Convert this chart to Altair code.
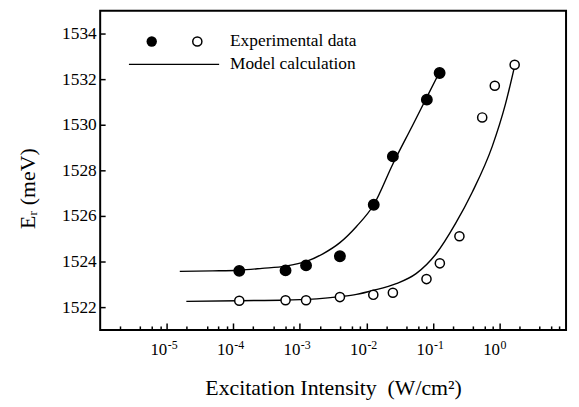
import altair as alt
import pandas as pd

# ---- data ----
filled_I = [1.23e-4, 6.1e-4, 1.24e-3, 4.0e-3, 1.29e-2, 2.5e-2, 8.1e-2, 0.126]
filled_E = [1523.59, 1523.61, 1523.83, 1524.23, 1526.49, 1528.61, 1531.10, 1532.27]

open_I = [1.23e-4, 6.1e-4, 1.24e-3, 4.0e-3, 1.27e-2, 2.5e-2, 8.0e-2, 0.127, 0.25, 0.55, 0.85, 1.69]
open_E = [1522.28, 1522.30, 1522.30, 1522.44, 1522.54, 1522.63, 1523.23, 1523.92, 1525.11,
          1530.32, 1531.71, 1532.63]

model_filled_I = [1.57e-5, 4.9e-5, 1.23e-4, 2.7e-4, 6.1e-4, 1.28e-3, 2.22e-3, 4.0e-3, 7.1e-3,
                  1.29e-2, 2.5e-2, 4.98e-2, 8.1e-2, 0.117]
model_filled_E = [1523.57, 1523.59, 1523.62, 1523.70, 1523.80, 1524.02, 1524.34, 1524.83, 1525.54,
                  1526.49, 1528.28, 1529.99, 1531.21, 1532.13]

model_open_I = [1.97e-5, 1.16e-4, 6.44e-4, 1.80e-3, 4.0e-3, 7.1e-3, 1.26e-2, 2.81e-2, 5.58e-2,
                0.111, 0.220, 0.391, 0.776, 1.225, 1.69]
model_open_E = [1522.25, 1522.28, 1522.31, 1522.36, 1522.46, 1522.56, 1522.73, 1523.03, 1523.47,
                1524.33, 1525.68, 1527.05, 1529.04, 1530.89, 1532.58]

x_major = [1e-5, 1e-4, 1e-3, 1e-2, 1e-1, 1.0]
x_major_exp = ["-5", "-4", "-3", "-2", "-1", "0"]
x_minor = [m * 10.0 ** k for k in range(-6, 1) for m in (2, 4, 6, 8)]
y_ticks = [1522, 1524, 1526, 1528, 1530, 1532, 1534]

legend_exp = "Experimental data"
legend_model = "Model calculation"
x_title = "Excitation Intensity\u00a0 (W/cm²)"
y_title = "Eᵣ (meV)"

# ---- tables ----
pts = pd.DataFrame({
    "I": filled_I + open_I,
    "E": filled_E + open_E,
    "s": ["filled"] * len(filled_I) + ["open"] * len(open_I),
})
model = pd.DataFrame({
    "I": model_filled_I + model_open_I,
    "E": model_filled_E + model_open_E,
    "s": ["filled"] * len(model_filled_I) + ["open"] * len(model_open_I),
})
exps = pd.DataFrame({"I": x_major, "t": x_major_exp})
one = pd.DataFrame({"a": [0]})

FONT = "Liberation Serif"
W, H = 470, 322

xscale = alt.Scale(type="log", domain=[1e-6, 10], nice=False)
yscale = alt.Scale(domain=[1521, 1535], nice=False, zero=False)

x_axis_major = alt.Axis(orient="bottom", values=x_major, labelExpr="'10'", labelAlign="right",
                        offset=-7, tickSize=7, tickWidth=1.5, labelPadding=12, labelFontSize=17,
                        title=x_title, titleFontSize=22, titlePadding=20,
                        grid=False, domain=False)
x_axis_minor = alt.Axis(orient="bottom", values=x_minor, offset=-4, tickSize=4, tickWidth=1.5,
                        labels=False, title="", grid=False, domain=False)
y_axis = alt.Axis(orient="left", values=y_ticks, format="d", offset=-5, tickSize=5, tickWidth=1.5,
                  labelPadding=4, labelFontSize=17.5, title=y_title, titleFontSize=22,
                  titleAngle=270, titleX=-78, titleY=179, titleAlign="center",
                  titleBaseline="middle", grid=False, domain=False)

lines = alt.Chart(model).mark_line(color="black", strokeWidth=1.4, interpolate="monotone").encode(
    x=alt.X("I:Q", scale=xscale, axis=x_axis_major),
    y=alt.Y("E:Q", scale=yscale, axis=y_axis),
    detail="s:N",
)

points = alt.Chart(pts).mark_circle(stroke="black", strokeWidth=1.5, opacity=1).encode(
    x=alt.X("I:Q", scale=xscale, axis=x_axis_minor),
    y=alt.Y("E:Q", scale=yscale, axis=y_axis),
    fill=alt.Fill("s:N", scale=alt.Scale(domain=["filled", "open"], range=["black", "white"]), legend=None),
    size=alt.Size("s:N", scale=alt.Scale(domain=["filled", "open"], range=[110, 85]), legend=None),
)

exp_text = alt.Chart(exps).mark_text(align="left", baseline="middle", font=FONT, fontSize=12,
                                     color="black", dx=1).encode(
    x=alt.X("I:Q", scale=xscale, axis=None),
    y=alt.value(H + 15),
    text="t:N",
)

leg_filled = alt.Chart(one).mark_circle(color="black", size=110, opacity=1).encode(
    x=alt.value(52), y=alt.value(31))
leg_open = alt.Chart(one).mark_circle(fill="white", stroke="black", strokeWidth=1.5, size=85, opacity=1).encode(
    x=alt.value(98), y=alt.value(31))
leg_line = alt.Chart(one).mark_rule(color="black", strokeWidth=1.3).encode(
    x=alt.value(29), x2=alt.value(120), y=alt.value(54))
leg_t1 = alt.Chart(one).mark_text(align="left", baseline="middle", font=FONT, fontSize=17.5,
                                  color="black", text=legend_exp).encode(x=alt.value(131), y=alt.value(31))
leg_t2 = alt.Chart(one).mark_text(align="left", baseline="middle", font=FONT, fontSize=17.5,
                                  color="black", text=legend_model).encode(x=alt.value(131), y=alt.value(54))

chart = alt.layer(lines, points, exp_text, leg_filled, leg_open, leg_line, leg_t1, leg_t2).resolve_axis(
    x="independent"
).properties(
    width=W, height=H, autosize="none",
    padding={"left": 93, "top": 1, "right": 5, "bottom": 76},
    background="white",
).configure_view(stroke="black", strokeWidth=2).configure_axis(
    labelFont=FONT, titleFont=FONT, labelColor="black", titleColor="black",
    tickColor="black", titleFontWeight="normal",
)

chart.save("out.html", embed_options={"renderer": "svg", "actions": False})
